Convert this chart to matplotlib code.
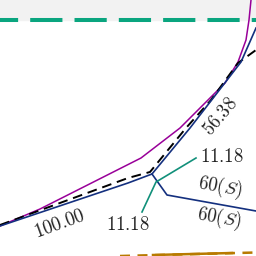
import matplotlib
matplotlib.use("Agg")
import matplotlib.pyplot as plt

plt.rcParams['mathtext.fontset'] = 'cm'

# curves (pixel coords, y grows downward)
purple_x = [0, 40, 141, 180, 198, 225, 238, 246, 249, 251]
purple_y = [226, 209, 158, 128, 110, 83, 62, 40, 20, 0]

blue_x = [0, 128, 152, 190, 241, 256]
blue_y = [226, 183, 174, 128, 62, 28]

blue_low_x = [152, 167, 256]
blue_low_y = [174, 195, 211]

dash_x = [0, 128, 150, 186, 211, 238, 256]
dash_y = [225, 178, 172, 128, 100, 63, 50]

green_x = [142, 156, 196]
green_y = [212, 182, 158]

gold_x = [120, 256]
gold_y = [256, 252.5]
gold_solid_x = [153, 232]
gold_solid_y = [255, 253]

top_band_y = 19.5

labels = [r'$100.00$', r'$11.18$', r'$11.18$', r'$60(S)$', r'$60(S)$', r'$56.38$']
label_x = [59, 128, 222, 220, 219, 220]
label_y = [224, 225, 157, 187, 218, 116]
label_rot = [20, 0, 0, -10, -10, 50]

fig = plt.figure(figsize=(2.56, 2.56), dpi=100)
ax = fig.add_axes([0, 0, 1, 1])
ax.set_xlim(0, 256)
ax.set_ylim(256, 0)
ax.axis('off')

ax.axhspan(0, top_band_y, color='#f2f2f2', zorder=0)
ax.plot([0, 256], [top_band_y, top_band_y], color='#0aa57f', lw=2.9,
        linestyle=(3.5, (8, 3)), dash_capstyle='butt')

ax.plot(purple_x, purple_y, color='#990099', lw=1.1)
ax.plot(dash_x, dash_y, color='black', lw=1.4, dashes=(5, 3))
ax.plot(blue_x, blue_y, color='#14307f', lw=1.2)
ax.plot(blue_low_x, blue_low_y, color='#14307f', lw=1.2)
ax.plot(green_x, green_y, color='#11907a', lw=1.2)
ax.plot(gold_x, gold_y, color='#b87a00', lw=1.8, dashes=(4, 3))
ax.plot(gold_solid_x, gold_solid_y, color='#b87a00', lw=1.8)

for s, x, y, r in zip(labels, label_x, label_y, label_rot):
    ax.text(x, y, s, fontsize=13.5, rotation=r, ha='center', va='center',
            color='#222222')

fig.savefig('out.png', dpi=100)
